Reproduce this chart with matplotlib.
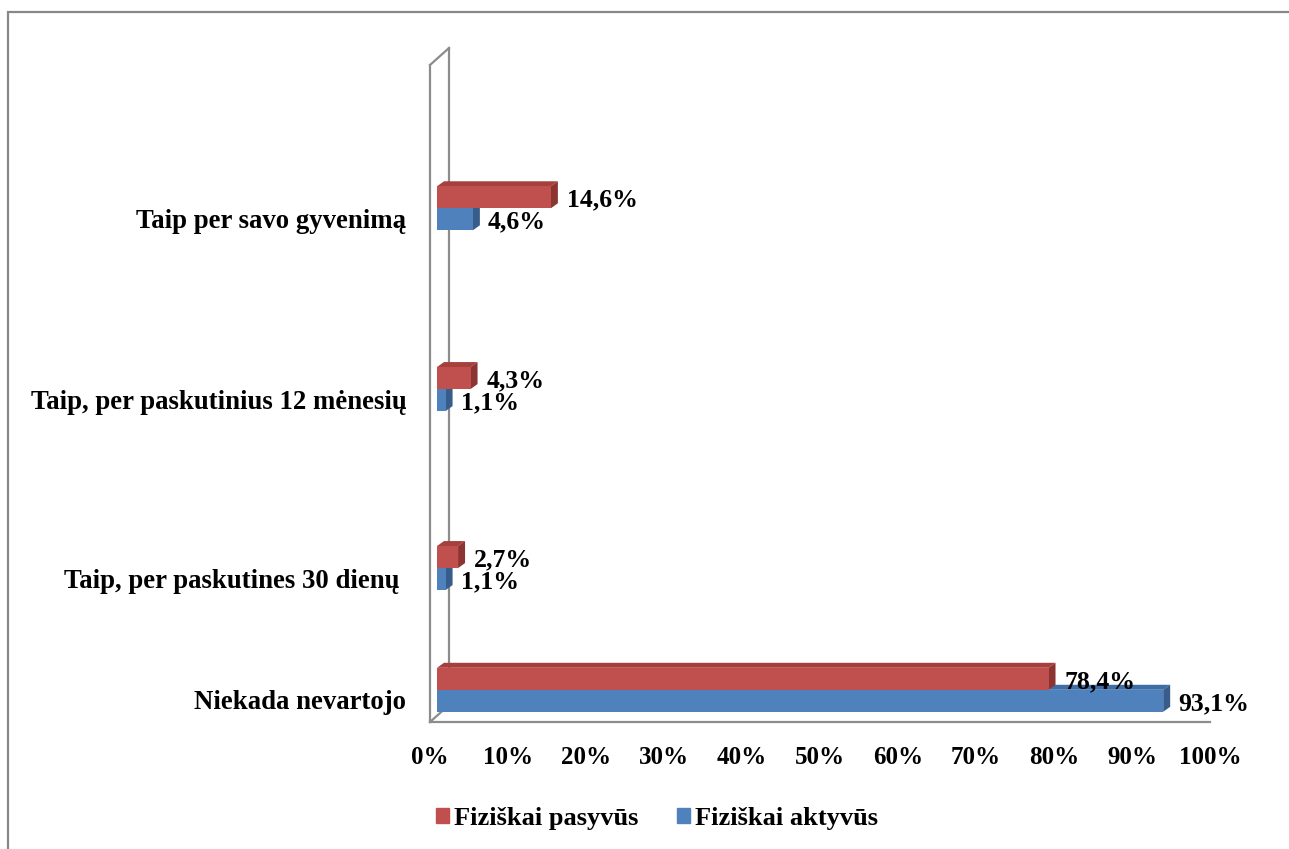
import numpy as np
import matplotlib
matplotlib.use("Agg")
import matplotlib.pyplot as plt
from matplotlib.patches import Polygon, Rectangle, Patch

plt.rcParams['font.family'] = ['Liberation Serif', 'DejaVu Serif']
plt.rcParams['font.weight'] = 'bold'

categories = ["Taip per savo gyvenimą", "Taip, per paskutinius 12 mėnesių",
              "Taip, per paskutines 30 dienų ", "Niekada nevartojo"]
pasyvus = [14.6, 4.3, 2.7, 78.4]
aktyvus = [4.6, 1.1, 1.1, 93.1]
series_names = ["Fiziškai pasyvūs", "Fiziškai aktyvūs"]

red, red_top, red_side = "#C0504D", "#A5403D", "#8C3432"
blue, blue_top, blue_side = "#4F81BD", "#3F6DA6", "#385D8A"
wall = "#8C8C8C"

W, H, DPI = 1289, 849, 100
fig = plt.figure(figsize=(W / DPI, H / DPI), dpi=DPI)

# front plane of the 3D box in pixels
x0px, x1px, ybot, ytop = 430, 1210, 722, 65
ax = fig.add_axes([x0px / W, 1 - ybot / H, (x1px - x0px) / W, (ybot - ytop) / H])
px_x = (x1px - x0px) / 100.0   # pixels per percent
px_y = 179.0                    # pixels per row unit
ymax = (ybot - ytop) / px_y
ax.set_xlim(0, 100)
ax.set_ylim(0, ymax)
for s in ax.spines.values():
    s.set_visible(False)

rows = np.array([2.87, 1.86, 0.86, 0.18])
bh = 22 / px_y
shift = 7 / px_x          # bars sit a little behind the front plane
ddx, ddy = 7 / px_x, 5 / px_y
wdx, wdy = 19 / px_x, 17 / px_y

# side wall and floor edge
lw = 1.6
ax.plot([0, 0], [0, ymax], color=wall, lw=lw, clip_on=False, zorder=1)
ax.plot([wdx, wdx], [wdy, ymax + wdy], color=wall, lw=lw, clip_on=False, zorder=1)
ax.plot([0, wdx], [ymax, ymax + wdy], color=wall, lw=lw, clip_on=False, zorder=1)
ax.plot([0, wdx], [0, wdy], color=wall, lw=lw, clip_on=False, zorder=1)
ax.plot([0, 100], [0, 0], color=wall, lw=lw, clip_on=False, zorder=1)


def bar3d(y, v, front, top, side, zf, zd):
    ax.barh(y, v, height=bh, left=shift, align='edge', color=front, zorder=zf)
    xa, xb = shift, shift + v
    yt = y + bh
    ax.add_patch(Polygon([(xa, yt), (xb, yt), (xb + ddx, yt + ddy), (xa + ddx, yt + ddy)],
                         closed=True, color=top, lw=0, zorder=zd))
    ax.add_patch(Polygon([(xb, y), (xb, yt), (xb + ddx, yt + ddy), (xb + ddx, y + ddy)],
                         closed=True, color=side, lw=0, zorder=zd))


lab_kw = dict(fontsize=18.5, fontweight='bold', va='center', ha='left', zorder=10)
for i, r in enumerate(rows):
    bar3d(r, pasyvus[i], red, red_top, red_side, 3, 2.5)
    bar3d(r - bh, aktyvus[i], blue, blue_top, blue_side, 5, 2)
    ax.text(shift + pasyvus[i] + ddx + 9 / px_x, r + bh / 2 - 3 / px_y,
            f"{pasyvus[i]:.1f}%".replace(".", ","), **lab_kw)
    ax.text(shift + aktyvus[i] + ddx + 8 / px_x, r - bh / 2 - 3 / px_y,
            f"{aktyvus[i]:.1f}%".replace(".", ","), **lab_kw)

ax.set_xticks(np.arange(0, 101, 10))
ax.set_xticklabels([f"{t}%" for t in range(0, 101, 10)], fontsize=18, fontweight='bold')
ax.set_yticks(rows - 10 / px_y)
ax.set_yticklabels(categories, fontsize=19.3, fontweight='bold')
ax.tick_params(axis='x', length=0, pad=17)
ax.tick_params(axis='y', length=0, pad=17)

handles = [Patch(color=red), Patch(color=blue)]
fig.legend(handles, series_names, loc='center', bbox_to_anchor=(657 / W, 1 - 818 / H),
           ncol=2, frameon=False, prop=dict(size=19, weight='bold'),
           handlelength=0.5, handleheight=0.5, handletextpad=0.2, columnspacing=1.45)

# outer chart border
fig.add_artist(Rectangle((8 / W, -0.1), 2, 1 - 12 / H + 0.1, transform=fig.transFigure,
                         fill=False, ec="#888888", lw=1.6))

fig.savefig("out.png", dpi=DPI)
